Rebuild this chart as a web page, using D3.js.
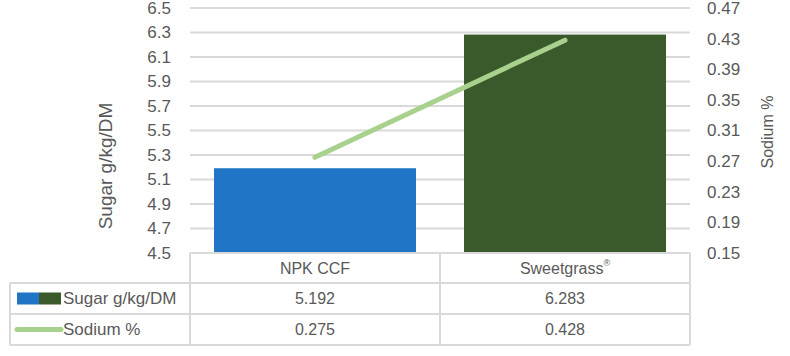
<!DOCTYPE html>
<html><head><meta charset="utf-8">
<script src="https://cdn.jsdelivr.net/npm/d3@7"></script>
<style>body{margin:0;background:#fff}svg{display:block}text{font-family:"Liberation Sans",Arial,sans-serif;fill:#595959}</style>
</head><body>
<svg id="c" width="790" height="356"></svg>
<script>
const categories = ["NPK CCF", "Sweetgrass"];
const sugar = [5.192, 6.283];
const sodium = [0.275, 0.428];
const leftTicks = [4.5,4.7,4.9,5.1,5.3,5.5,5.7,5.9,6.1,6.3,6.5];
const rightTicks = [0.15,0.19,0.23,0.27,0.31,0.35,0.39,0.43,0.47];
const barColors = ["#2175c6", "#3a5a2c"];
const lineColor = "#a9d18e";

const svg = d3.select("#c");
const L = 190, R = 690, T = 8, B = 253;
const x = d3.scaleBand().domain(categories).range([L, R]).paddingInner(0.192).paddingOuter(0.096);
const xc = d3.scaleBand().domain(categories).range([L, R]);
const yL = d3.scaleLinear().domain([4.5, 6.5]).range([B, T]);
const yR = d3.scaleLinear().domain([0.15, 0.47]).range([B, T]);
const grid = "#d9d9d9";
const fs = 16;

// gridlines
svg.append("g").selectAll("line").data(leftTicks.slice(1)).join("line")
  .attr("x1", L).attr("x2", R).attr("y1", d => yL(d)).attr("y2", d => yL(d))
  .attr("stroke", grid).attr("stroke-width", 2);

// bars
svg.append("g").selectAll("rect").data(categories).join("rect")
  .attr("x", d => x(d)).attr("width", x.bandwidth())
  .attr("y", (d,i) => yL(sugar[i])).attr("height", (d,i) => B - yL(sugar[i]))
  .attr("fill", (d,i) => barColors[i]);

// line
svg.append("path").datum(sodium)
  .attr("d", d3.line().x((d,i) => xc(categories[i]) + xc.bandwidth()/2).y(d => yR(d)))
  .attr("fill", "none").attr("stroke", lineColor).attr("stroke-width", 5).attr("stroke-linecap", "round");

// left axis labels
svg.append("g").selectAll("text").data(leftTicks).join("text")
  .attr("x", 171).attr("y", d => yL(d)).attr("dy", "0.35em").attr("text-anchor", "end")
  .attr("font-size", 17).text(d => d3.format(".1f")(d));
// right axis labels
svg.append("g").selectAll("text").data(rightTicks).join("text")
  .attr("x", 707).attr("y", d => yR(d)).attr("dy", "0.35em").attr("text-anchor", "start")
  .attr("font-size", 17).text(d => d3.format(".2f")(d));

// axis titles
svg.append("text").attr("transform", "translate(105,166) rotate(-90)").attr("dy", "0.35em").attr("text-anchor", "middle")
  .attr("font-size", 19).text("Sugar g/kg/DM");
svg.append("text").attr("transform", "translate(767,132) rotate(-90)").attr("dy", "0.35em").attr("text-anchor", "middle")
  .attr("font-size", 16).text("Sodium %");

// data table
const rows = [253, 283, 314, 345];
const tb = svg.append("g").attr("stroke", grid).attr("stroke-width", 2);
tb.append("line").attr("x1", L).attr("x2", R).attr("y1", rows[0]).attr("y2", rows[0]);
rows.slice(1).forEach(y => tb.append("line").attr("x1", 10).attr("x2", R).attr("y1", y).attr("y2", y));
tb.append("line").attr("x1", 10).attr("x2", 10).attr("y1", rows[1]).attr("y2", rows[3]);
[L, L + xc.bandwidth(), R].forEach(xx => tb.append("line").attr("x1", xx).attr("x2", xx).attr("y1", rows[0]).attr("y2", rows[3]));

// header
const hdr = svg.append("g").selectAll("text").data(categories).join("text")
  .attr("x", d => xc(d) + xc.bandwidth()/2).attr("y", (rows[0]+rows[1])/2).attr("dy", "0.35em")
  .attr("text-anchor", "middle").attr("font-size", fs);
hdr.append("tspan").text(d => d);
hdr.filter(d => d === "Sweetgrass").append("tspan").attr("font-size", 9).attr("dy", "-0.9em").text("®");

svg.append("g").selectAll("text").data(sugar).join("text")
  .attr("x", (d,i) => xc(categories[i]) + xc.bandwidth()/2).attr("y", (rows[1]+rows[2])/2).attr("dy", "0.35em")
  .attr("text-anchor", "middle").attr("font-size", fs).text(d => d3.format(".3f")(d));
svg.append("g").selectAll("text").data(sodium).join("text")
  .attr("x", (d,i) => xc(categories[i]) + xc.bandwidth()/2).attr("y", (rows[2]+rows[3])/2).attr("dy", "0.35em")
  .attr("text-anchor", "middle").attr("font-size", fs).text(d => d3.format(".3f")(d));

// legend keys
const ly1 = (rows[1]+rows[2])/2, ly2 = (rows[2]+rows[3])/2;
svg.append("rect").attr("x", 17).attr("y", ly1-6).attr("width", 22).attr("height", 12).attr("fill", barColors[0]);
svg.append("rect").attr("x", 39).attr("y", ly1-6).attr("width", 22).attr("height", 12).attr("fill", barColors[1]);
svg.append("line").attr("x1", 17).attr("x2", 61).attr("y1", ly2).attr("y2", ly2).attr("stroke", lineColor).attr("stroke-width", 5).attr("stroke-linecap", "round");
svg.append("text").attr("x", 63).attr("y", ly1).attr("dy", "0.35em").attr("font-size", 17).text("Sugar g/kg/DM");
svg.append("text").attr("x", 63).attr("y", ly2).attr("dy", "0.35em").attr("font-size", 17).text("Sodium %");
</script>
</body></html>
